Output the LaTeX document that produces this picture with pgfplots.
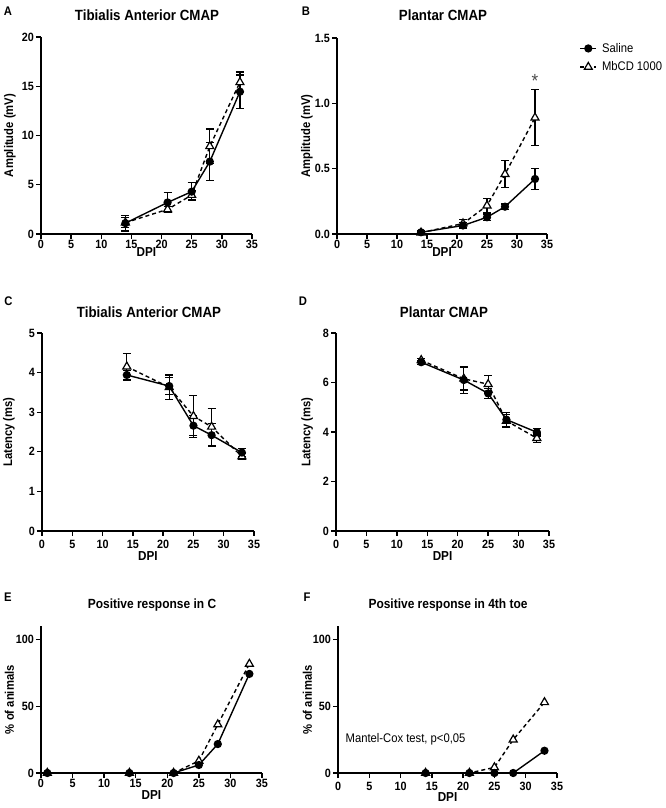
\documentclass[border=0pt]{standalone}
\usepackage{fontspec}
\setmainfont{Liberation Sans}[FakeStretch=0.9]
\usepackage{pgfplots}
\pgfplotsset{compat=1.18}

\pgfplotsset{
  panel/.style={
    scale only axis, anchor=south west, clip=false,
    axis x line*=bottom, axis y line*=left,
    axis line style={-, line width=1.3pt},
    tick align=outside, major tick length=5pt,
    every tick/.style={black, line width=1.3pt},
    xmin=0, xmax=35, xtick={0,5,...,35}, ymin=0,
    /pgf/number format/assume math mode=true,
    ticklabel style={font=\fontsize{12}{13}\selectfont\bfseries},
    xticklabel style={inner sep=1pt},
    yticklabel style={inner sep=2pt},
    xlabel={DPI},
    every axis x label/.style={anchor=center, font=\fontsize{13}{15}\selectfont\bfseries},
    every axis y label/.style={rotate=90, anchor=center, font=\fontsize{12.5}{14}\selectfont\bfseries},
  },
  salline/.style={black, line width=1.4pt, solid, mark=*, mark size=3.4pt,
    mark options={solid, fill=black}},
  mbline/.style={black, line width=1.4pt, dash pattern=on 4pt off 3pt, mark=triangle*,
    mark size=4.6pt, mark options={solid, fill=white, line width=1.2pt}},
  err/.style={error bars/y dir=both, error bars/y explicit,
    error bars/error bar style={solid, line width=1.2pt},
    error bars/error mark options={rotate=90, mark size=4pt, line width=1.2pt}},
}

\begin{document}
\begin{tikzpicture}
\path[use as bounding box] (0pt,0pt) rectangle (666pt,808pt);

% panel letters and titles
\begin{scope}[every node/.style={font=\fontsize{12.5}{14}\selectfont\bfseries}]
\node at (8pt,797pt) {A};
\node at (306pt,797pt) {B};
\node at (8.5pt,507pt) {C};
\node at (303pt,507pt) {D};
\node at (8pt,210.5pt) {E};
\node at (307pt,210.5pt) {F};
\end{scope}
\begin{scope}[every node/.style={font=\fontsize{14.8}{16}\selectfont\bfseries}]
\node at (147pt,793pt) {Tibialis Anterior CMAP};
\node at (443pt,793pt) {Plantar CMAP};
\node at (149pt,496pt) {Tibialis Anterior CMAP};
\node at (444pt,496pt) {Plantar CMAP};
\end{scope}
\begin{scope}[every node/.style={font=\fontsize{13.3}{15}\selectfont\bfseries}]
\node at (152pt,203pt) {Positive response in C};
\node at (448pt,203pt) {Positive response in 4th toe};
\end{scope}

% A
\begin{axis}[panel, at={(41pt,574pt)}, width=211pt, height=197pt,
    ymax=20, ytick={0,5,10,15,20},
    ylabel={Amplitude (mV)},
    ylabel style={at={(axis description cs:-0.147,0.5)}},
    xlabel style={at={(axis description cs:0.5,-0.093)}}]
\addplot[mbline, err] coordinates {(14,1.15) +- (0,0.5) (21,2.5) +- (0,0.3)
    (25,3.95) +- (0,0.45) (28,8.9) +- (0,1.75) (33,15.4) +- (0,1.05)};
\addplot[salline, err] coordinates {(14,1.1) +- (0,0.8) (21,3.2) +- (0,1.0)
    (25,4.3) +- (0,0.9) (28,7.35) +- (0,1.95) (33,14.45) +- (0,1.7)};
\end{axis}

% B
\begin{axis}[panel, at={(337pt,574pt)}, width=210pt, height=196pt,
    ymax=1.5, ytick={0,0.5,1,1.5},
    yticklabel style={/pgf/number format/.cd, fixed, fixed zerofill, precision=1},
    ylabel={Amplitude (mV)},
    ylabel style={at={(axis description cs:-0.143,0.5)}},
    xlabel style={at={(axis description cs:0.5,-0.09)}},
    legend style={at={(rel axis cs:1.14,0.995)}, anchor=north west, draw=none,
      fill=none, font=\fontsize{12.5}{15}\selectfont, row sep=4pt,
      /tikz/every odd column/.style={column sep=3pt}},
    legend cell align=left,
    legend image code/.code={\draw[mark repeat=2,mark phase=2,#1]
      plot coordinates {(0pt,0pt) (8pt,0pt) (16pt,0pt)};}]
\addlegendimage{salline}
\addlegendentry{Saline}
\addlegendimage{mbline}
\addlegendentry{MbCD 1000}
\addplot[mbline, err, forget plot] coordinates {(14,0.01) +- (0,0.005) (21,0.08) +- (0,0.03)
    (25,0.217) +- (0,0.056) (28,0.458) +- (0,0.105) (33,0.89) +- (0,0.215)};
\addplot[salline, err, forget plot] coordinates {(14,0.013) +- (0,0.01) (21,0.065) +- (0,0.025)
    (25,0.128) +- (0,0.025) (28,0.209) +- (0,0.02) (33,0.421) +- (0,0.08)};
\node[font=\fontsize{19}{20}\selectfont, text=black!70] at (axis cs:33,1.17) {*};
\end{axis}

% C
\begin{axis}[panel, at={(42pt,277pt)}, width=212pt, height=198pt,
    ymax=5, ytick={0,1,2,3,4,5},
    ylabel={Latency (ms)},
    ylabel style={at={(axis description cs:-0.156,0.5)}},
    xlabel style={at={(axis description cs:0.5,-0.125)}},
    xticklabel style={yshift=-3pt}]
\addplot[mbline, err] coordinates {(14,4.15) +- (0,0.34) (21,3.63) +- (0,0.31)
    (25,2.9) +- (0,0.53) (28,2.63) +- (0,0.47) (33,1.88) +- (0,0.08)};
\addplot[salline, err] coordinates {(14,3.94) +- (0,0.12) (21,3.66) +- (0,0.22)
    (25,2.66) +- (0,0.25) (28,2.42) +- (0,0.29) (33,1.98) +- (0,0.1)};
\end{axis}

% D
\begin{axis}[panel, at={(336pt,277pt)}, width=213pt, height=198pt,
    ymax=8, ytick={0,2,4,6,8},
    ylabel={Latency (ms)},
    ylabel style={at={(axis description cs:-0.136,0.5)}},
    xlabel style={at={(axis description cs:0.5,-0.125)}},
    xticklabel style={yshift=-3pt}]
\addplot[mbline, err] coordinates {(14,6.9) +- (0,0.08) (21,6.15) +- (0,0.45)
    (25,5.93) +- (0,0.34) (28,4.45) +- (0,0.25) (33,3.75) +- (0,0.17)};
\addplot[salline, err] coordinates {(14,6.82) +- (0,0.08) (21,6.1) +- (0,0.55)
    (25,5.56) +- (0,0.2) (28,4.5) +- (0,0.3) (33,3.99) +- (0,0.15)};
\end{axis}

% E
\begin{axis}[panel, at={(41pt,35pt)}, width=221pt, height=146.7pt,
    ymax=110, ytick={0,50,100},
    ylabel={\% of animals},
    ylabel style={at={(axis description cs:-0.143,0.5)}},
    xlabel style={at={(axis description cs:0.5,-0.15)}}]
\addplot[mbline] coordinates {(1,0) (14,0) (21,0) (25,9.1) (28,36.4) (33,81.8)};
\addplot[salline] coordinates {(1,0) (14,0) (21,0) (25,6) (28,21.7) (33,74.3)};
\end{axis}

% F
\begin{axis}[panel, at={(338pt,35pt)}, width=219pt, height=146.7pt,
    ymax=110, ytick={0,50,100},
    ylabel={\% of animals},
    ylabel style={at={(axis description cs:-0.14,0.5)}},
    xlabel style={at={(axis description cs:0.5,-0.164)}},
    xticklabel style={yshift=-3pt}]
\addplot[mbline] coordinates {(14,0) (21,0) (25,4.2) (28,25) (33,53)};
\addplot[salline] coordinates {(14,0) (21,0) (25,0) (28,0) (33,16.7)};
\node[font=\fontsize{12.5}{15}\selectfont] at (axis cs:10.8,25) {Mantel-Cox test, p<0,05};
\end{axis}
\end{tikzpicture}
\end{document}
